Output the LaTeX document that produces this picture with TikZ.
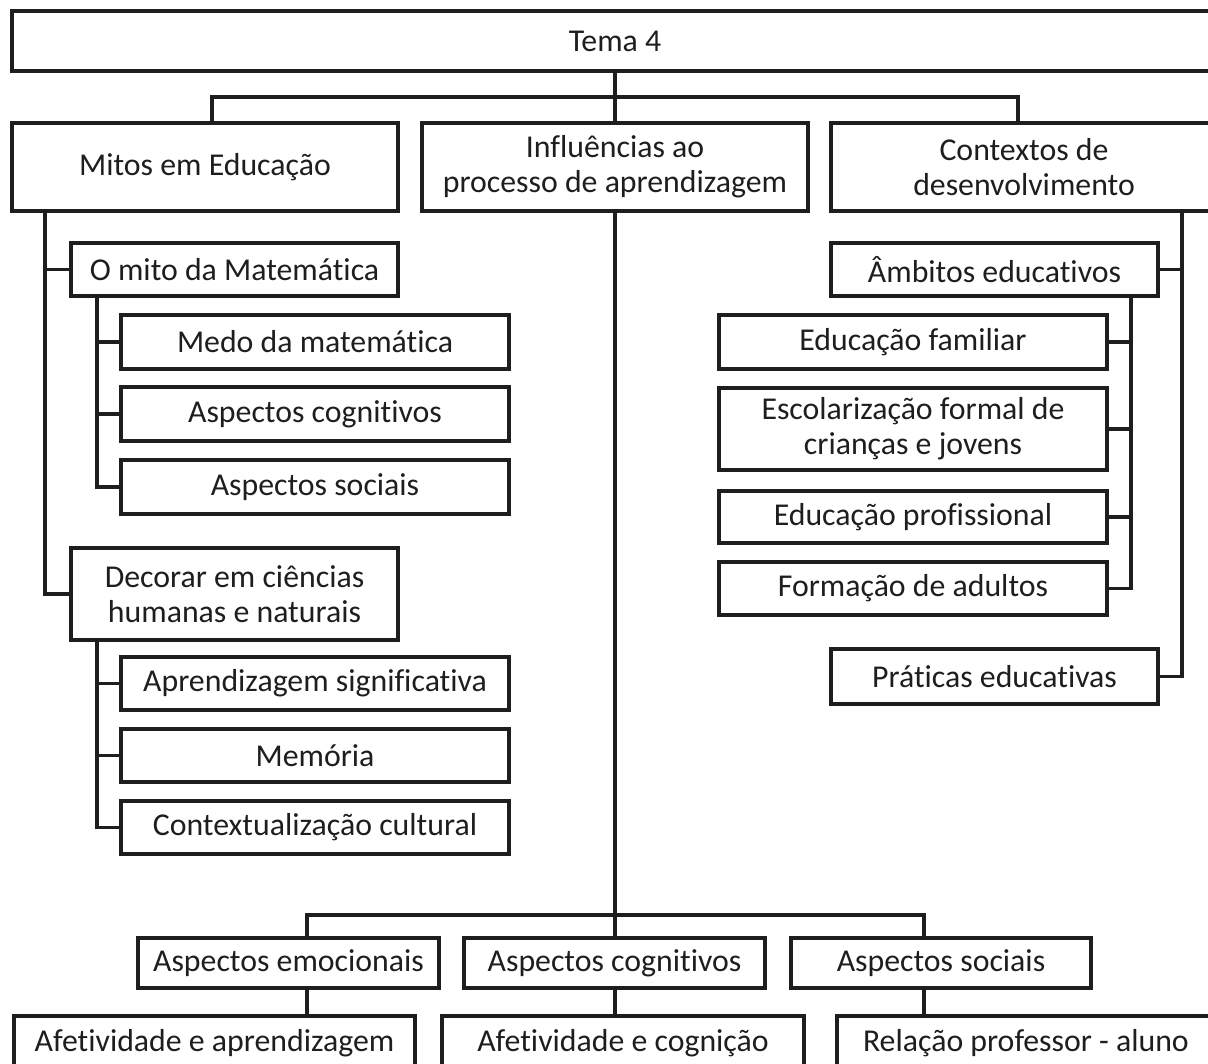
\documentclass[tikz,border=0pt]{standalone}
\usepackage{fontspec}
\setmainfont{Carlito}[Ligatures=CommonOff]
\definecolor{ink}{HTML}{1E1E1E}
\begin{document}
\begin{tikzpicture}[x=1pt,y=-1pt,
  box/.style={draw=ink, line width=3.2pt, inner sep=0pt, outer sep=0pt,
              align=center, text=ink, fill=white,
              font=\fontsize{31.8}{35}\selectfont},
  link/.style={draw=ink, line width=3.2pt}]
\useasboundingbox (0,0) rectangle (1208,1064);
\clip (0,0) rectangle (1208,1064);
\fill[white] (0,0) rectangle (1208,1064);

% trunk positions
\coordinate (tA) at (45,0);
\coordinate (tB) at (97,0);
\coordinate (tC) at (1182,0);
\coordinate (tD) at (1131,0);
\coordinate (jl) at (212,97);
\coordinate (jr) at (1018,97);
\coordinate (b1) at (307,915);
\coordinate (b3) at (924,915);

% top level
\node[box, minimum width=1206pt, minimum height=60pt] (tema) at (615,41) {Tema 4};
\node[box, minimum width=386pt, minimum height=88pt] (mitos) at (205,167) {Mitos em Educação};
\node[box, minimum width=386pt, minimum height=88pt] (influ) at (615,167) {Influências ao\\processo de aprendizagem};
\node[box, minimum width=386pt, minimum height=88pt] (contx) at (1024,167) {Contextos de\\desenvolvimento};

% left branch
\node[box, minimum width=327pt, minimum height=53pt] (omito) at (234.5,269.5) {O mito da Matemática};
\node[box, minimum width=388pt, minimum height=54pt] (medo) at (315,342) {Medo da matemática};
\node[box, minimum width=388pt, minimum height=54pt] (ascogA) at (315,414) {Aspectos cognitivos};
\node[box, minimum width=388pt, minimum height=54pt] (assocA) at (315,487) {Aspectos sociais};
\node[box, minimum width=327pt, minimum height=92pt] (decor) at (234.5,594) {Decorar em ciências\\humanas e naturais};
\node[box, minimum width=388pt, minimum height=53pt] (aprsig) at (315,683.5) {Aprendizagem significativa};
\node[box, minimum width=388pt, minimum height=53pt] (memo) at (315,755.5) {Memória};
\node[box, minimum width=388pt, minimum height=53pt] (contcult) at (315,827.5) {Contextualização cultural};

% right branch
\node[box, minimum width=327pt, minimum height=53pt] (ambit) at (994.5,269.5) {Âmbitos educativos};
\node[box, minimum width=388pt, minimum height=54pt] (edfam) at (913,342) {Educação familiar};
\node[box, minimum width=388pt, minimum height=82pt] (escol) at (913,429) {Escolarização formal de\\crianças e jovens};
\node[box, minimum width=388pt, minimum height=52pt] (edprof) at (913,517) {Educação profissional};
\node[box, minimum width=388pt, minimum height=53pt] (form) at (913,588.5) {Formação de adultos};
\node[box, minimum width=327pt, minimum height=55pt] (prat) at (994.5,676.5) {Práticas educativas};

% bottom branch
\node[box, minimum width=301pt, minimum height=50pt] (asemo) at (288.5,963) {Aspectos emocionais};
\node[box, minimum width=301pt, minimum height=50pt] (ascogB) at (614.5,963) {Aspectos cognitivos};
\node[box, minimum width=300pt, minimum height=50pt] (assocB) at (941,963) {Aspectos sociais};
\node[box, minimum width=401pt, minimum height=54pt] (afap) at (214.5,1043) {Afetividade e aprendizagem};
\node[box, minimum width=362pt, minimum height=54pt] (afcog) at (623,1043) {Afetividade e cognição};
\node[box, anchor=west, text width=360pt, inner xsep=26pt, align=flush left, minimum height=54pt] (relac) at (837,1043) {Relação professor - aluno};

% connectors: top level
\draw[link] (tema.south) -- (influ.north);
\draw[link] (mitos.north -| jl) -- (jl) -- (jr) -- (contx.north -| jr);

% connectors: left branch
\draw[link] (mitos.south -| tA) |- (decor.west);
\draw[link] (omito.west) -- (omito.west -| tA);
\draw[link] (omito.south -| tB) |- (assocA.west);
\draw[link] (medo.west) -- (medo.west -| tB);
\draw[link] (ascogA.west) -- (ascogA.west -| tB);
\draw[link] (decor.south -| tB) |- (contcult.west);
\draw[link] (aprsig.west) -- (aprsig.west -| tB);
\draw[link] (memo.west) -- (memo.west -| tB);

% connectors: right branch
\draw[link] (contx.south -| tC) |- (prat.east);
\draw[link] (ambit.east) -- (ambit.east -| tC);
\draw[link] (ambit.south -| tD) |- (form.east);
\draw[link] (edfam.east) -- (edfam.east -| tD);
\draw[link] (escol.east) -- (escol.east -| tD);
\draw[link] (edprof.east) -- (edprof.east -| tD);

% connectors: bottom branch
\draw[link] (influ.south) -- (influ.south |- ascogB.north);
\draw[link] (asemo.north -| b1) -- (b1) -- (b3) -- (assocB.north -| b3);
\draw[link] (asemo.south -| b1) -- (afap.north -| b1);
\draw[link] (ascogB.south -| influ.south) -- (afcog.north -| influ.south);
\draw[link] (assocB.south -| b3) -- (relac.north -| b3);
\end{tikzpicture}
\end{document}
